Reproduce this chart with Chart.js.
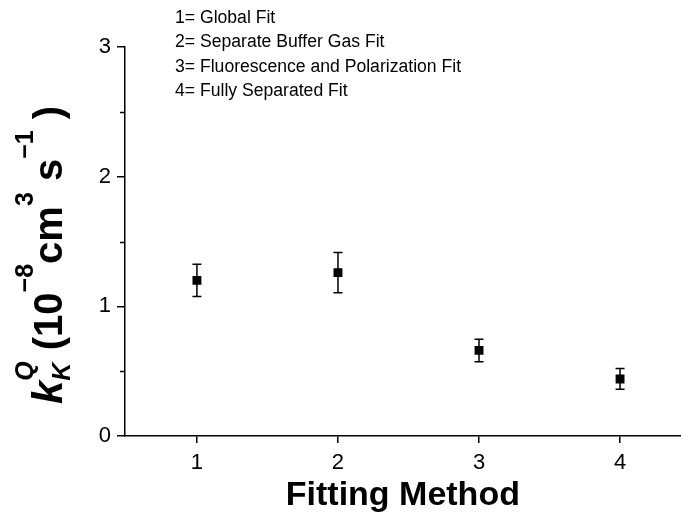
<!DOCTYPE html>
<html>
<head>
<meta charset="utf-8">
<script src="https://cdn.jsdelivr.net/npm/chart.js@4.4.1/dist/chart.umd.min.js"></script>
<style>
html,body{margin:0;padding:0;background:#fff;overflow:hidden;}
#wrap{width:681px;height:512px;position:relative;overflow:hidden;}
canvas{display:block;}
</style>
</head>
<body>
<div id="wrap"><canvas id="c" width="687" height="512"></canvas></div>
<script>
// ---- data ----
const methods = [1, 2, 3, 4];
const rateValues = [1.20, 1.26, 0.66, 0.44];
const rateErrors = [0.125, 0.155, 0.087, 0.08];
const xTickValues = [1, 2, 3, 4];
const yTickValues = [0, 1, 2, 3];
const yMinorTicks = [0.5, 1.5, 2.5];
const legendLines = [
  "1= Global Fit",
  "2= Separate Buffer Gas Fit",
  "3= Fluorescence and Polarization Fit",
  "4= Fully Separated Fit"
];
const xTitle = "Fitting Method";

const FONT = "'Liberation Sans', Arial, Helvetica, sans-serif";

const points = methods.map((m, i) => ({x: m, y: rateValues[i], e: rateErrors[i]}));

const errorBarPlugin = {
  id: 'errorBars',
  afterDatasetsDraw(chart) {
    const ctx = chart.ctx;
    const xs = chart.scales.x, ys = chart.scales.y;
    ctx.save();
    ctx.strokeStyle = '#000';
    ctx.lineWidth = 1.5;
    points.forEach(p => {
      const px = xs.getPixelForValue(p.x);
      const top = ys.getPixelForValue(p.y + p.e);
      const bot = ys.getPixelForValue(p.y - p.e);
      ctx.beginPath();
      ctx.moveTo(px, top); ctx.lineTo(px, bot);
      ctx.moveTo(px - 4.5, top); ctx.lineTo(px + 4.5, top);
      ctx.moveTo(px - 4.5, bot); ctx.lineTo(px + 4.5, bot);
      ctx.stroke();
    });
    ctx.restore();
  }
};

const decorPlugin = {
  id: 'decor',
  afterDraw(chart) {
    const ctx = chart.ctx;
    const ys = chart.scales.y;
    const left = chart.chartArea.left;
    ctx.save();
    // minor y ticks
    ctx.strokeStyle = '#000';
    ctx.lineWidth = 1.5;
    yMinorTicks.forEach(v => {
      const py = Math.round(ys.getPixelForValue(v)) + 0.5;
      ctx.beginPath();
      ctx.moveTo(left - 5, py); ctx.lineTo(left, py);
      ctx.stroke();
    });
    // legend text
    ctx.fillStyle = '#000';
    ctx.font = '17.6px ' + FONT;
    ctx.textAlign = 'left';
    ctx.textBaseline = 'middle';
    legendLines.forEach((t, i) => {
      ctx.fillText(t, 175, 18 + i * 24.5);
    });
    // y title (rotated rich text)
    const segs = [
      {t: 'k', f: 'italic bold 42px ' + FONT, dy: 0, stack: [
        {t: 'K', f: 'italic bold 25px ' + FONT, dy: 8},
        {t: 'Q', f: 'italic bold 25px ' + FONT, dy: -29}
      ]},
      {t: ' (10', f: 'bold 40px ' + FONT, dy: 0},
      {t: '\u22128', f: 'bold 25px ' + FONT, dy: -29},
      {t: 'cm', f: 'bold 40px ' + FONT, dy: 0},
      {t: '3', f: 'bold 25px ' + FONT, dy: -29},
      {t: ' s', f: 'bold 40px ' + FONT, dy: 0},
      {t: '\u22121', f: 'bold 25px ' + FONT, dy: -29},
      {t: ' )', f: 'bold 40px ' + FONT, dy: 0}
    ];
    let total = 0;
    segs.forEach(s => {
      ctx.font = s.f;
      s.w = ctx.measureText(s.t).width;
      if (s.stack) {
        s.sw = 0;
        s.stack.forEach(q => { ctx.font = q.f; s.sw = Math.max(s.sw, ctx.measureText(q.t).width); });
      } else s.sw = 0;
      total += s.w + s.sw;
    });
    ctx.translate(62, 255);
    ctx.rotate(-Math.PI / 2);
    ctx.textBaseline = 'alphabetic';
    let x = -total / 2;
    segs.forEach(s => {
      ctx.font = s.f;
      ctx.fillText(s.t, x, s.dy);
      x += s.w;
      if (s.stack) {
        s.stack.forEach(q => { ctx.font = q.f; ctx.fillText(q.t, x, q.dy); });
        x += s.sw;
      }
    });
    ctx.restore();
  }
};

new Chart(document.getElementById('c'), {
  type: 'scatter',
  data: {
    datasets: [{
      data: points,
      pointStyle: 'rect',
      pointRadius: 6.3,
      pointHoverRadius: 6.3,
      backgroundColor: '#000',
      borderColor: '#000',
      borderWidth: 0
    }]
  },
  options: {
    responsive: false,
    animation: false,
    events: [],
    layout: {padding: {top: 47, right: 0, left: 0, bottom: 0}},
    plugins: {legend: {display: false}, tooltip: {enabled: false}},
    scales: {
      x: {
        type: 'linear',
        min: 0.49, max: 4.43,
        afterBuildTicks: a => { a.ticks = xTickValues.map(v => ({value: v})); },
        afterFit: s => { s.height = 76; s.paddingLeft = 0; s.paddingRight = 0; },
        border: {display: true, color: '#000', width: 1.5},
        grid: {drawOnChartArea: false, drawTicks: true, tickLength: 7, color: '#000', lineWidth: 1.5},
        ticks: {color: '#000', font: {family: FONT, size: 22}, padding: 7, maxRotation: 0},
        title: {display: true, text: xTitle, color: '#000', font: {family: FONT, size: 34, weight: 'bold'}, padding: {top: 0, bottom: -4}}
      },
      y: {
        type: 'linear',
        min: 0, max: 3,
        afterBuildTicks: a => { a.ticks = yTickValues.map(v => ({value: v})); },
        afterFit: s => { s.width = 125; },
        border: {display: true, color: '#000', width: 1.5},
        grid: {drawOnChartArea: false, drawTicks: true, tickLength: 8, color: '#000', lineWidth: 1.5},
        ticks: {color: '#000', font: {family: FONT, size: 22}, padding: 6}
      }
    }
  },
  plugins: [errorBarPlugin, decorPlugin]
});
</script>
</body>
</html>
